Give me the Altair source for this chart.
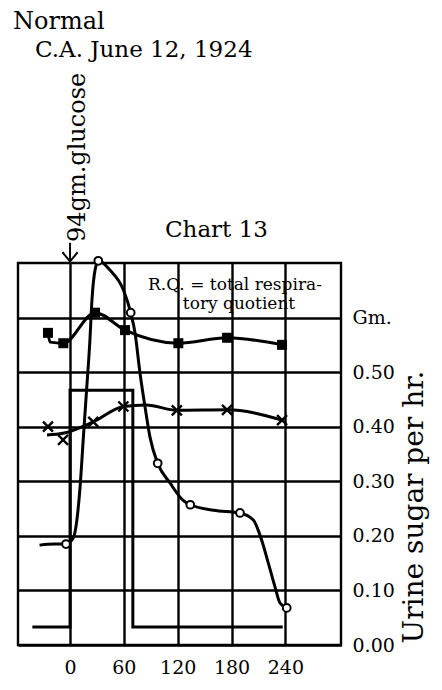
import altair as alt
import pandas as pd

FONT = "DejaVu Serif"

# Blood sugar (open circles) - Gm. scale
bs_mark_x = [-4.5, 31.5, 67.6, 97.7, 134, 189.4, 241.5]
bs_mark_v = [0.185, 0.704, 0.609, 0.333, 0.257, 0.242, 0.068]
# traced path of the blood sugar curve
bs_path_x = [-34, -17, -4.5, 3.6, 7.4, 11.1, 14.8, 18.6, 22.3, 24.1, 27.0, 31.5, 44.5,
             59.4, 67.6, 72.4, 78, 83.6, 89.1, 97.7, 111.4, 126, 134, 160, 189.4,
             204.3, 213.6, 221, 228.5, 234, 241.5]
bs_path_v = [0.183, 0.185, 0.185, 0.196, 0.226, 0.288, 0.379, 0.471, 0.563, 0.623, 0.678,
             0.704, 0.687, 0.651, 0.609, 0.572, 0.498, 0.436, 0.381, 0.333, 0.297, 0.265,
             0.257, 0.247, 0.242, 0.229, 0.192, 0.15, 0.106, 0.077, 0.068]

# Squares series
sq_mark_x = [-24.6, -7.5, 27.8, 61.3, 120.7, 175, 236.3]
sq_mark_v = [0.572, 0.553, 0.609, 0.577, 0.553, 0.563, 0.55]
sq_path_x = [-24.6, -22.2, -7.5, 27.8, 61.3, 120.7, 175, 236.3]
sq_path_v = [0.572, 0.555, 0.553, 0.609, 0.577, 0.553, 0.563, 0.55]

# Crosses series
cr_mark_x = [-24.6, -7.8, 25.9, 59.4, 119, 175, 236.3]
cr_mark_v = [0.40, 0.376, 0.409, 0.437, 0.43, 0.431, 0.412]
cr_path_x = [-25.7, -7.8, 25.9, 59.4, 85, 119, 175, 236.3]
cr_path_v = [0.385, 0.388, 0.409, 0.437, 0.44, 0.43, 0.431, 0.412]

# Urine sugar per hr. (step)
us_x = [-42, 0, 0, 70, 70, 237]
us_v = [0.033, 0.033, 0.467, 0.467, 0.033, 0.033]

x_ticks = [0, 60, 120, 180, 240]
y_ticks = [0, 0.1, 0.2, 0.3, 0.4, 0.5, 0.6]

GW = 2.4
X = alt.X("x:Q",
          scale=alt.Scale(domain=[-58, 302], nice=False, zero=False),
          axis=alt.Axis(values=x_ticks, grid=True, gridColor="black", gridWidth=GW,
                        gridOpacity=1, ticks=False, domain=False, labelFont=FONT,
                        labelFontSize=19, labelColor="black", labelPadding=13,
                        labelFlush=False, title=None))
Y = alt.Y("v:Q",
          scale=alt.Scale(domain=[0, 0.7], nice=False, zero=False),
          axis=alt.Axis(orient="right", values=y_ticks, grid=True, gridColor="black",
                        gridWidth=GW, gridOpacity=1, ticks=False, domain=False,
                        labelFont=FONT, labelFontSize=19, labelColor="black",
                        labelAlign="left", labelPadding=11, labelFlush=False,
                        labelExpr="datum.value > 0.55 ? 'Gm.' : format(datum.value, '.2f')",
                        title=None))

LW = 3

us_df = pd.DataFrame({"x": us_x, "v": us_v, "o": list(range(len(us_x)))})
step = alt.Chart(us_df).mark_line(color="black", strokeWidth=LW, interpolate="linear").encode(
    x=X, y=Y, order="o:Q")

bs_path = alt.Chart(pd.DataFrame({"x": bs_path_x, "v": bs_path_v})).mark_line(
    color="black", strokeWidth=LW, interpolate="monotone", clip=False).encode(x=X, y=Y)
sq_path = alt.Chart(pd.DataFrame({"x": sq_path_x, "v": sq_path_v})).mark_line(
    color="black", strokeWidth=LW, interpolate="monotone").encode(x=X, y=Y)
cr_path = alt.Chart(pd.DataFrame({"x": cr_path_x, "v": cr_path_v})).mark_line(
    color="black", strokeWidth=LW, interpolate="monotone").encode(x=X, y=Y)

bs_pts = alt.Chart(pd.DataFrame({"x": bs_mark_x, "v": bs_mark_v})).mark_point(
    shape="circle", fill="white", stroke="black", strokeWidth=2, size=60,
    opacity=1, fillOpacity=1, clip=False).encode(x=X, y=Y)
sq_pts = alt.Chart(pd.DataFrame({"x": sq_mark_x, "v": sq_mark_v})).mark_point(
    shape="square", filled=True, color="black", size=100, opacity=1).encode(x=X, y=Y)
cr_pts = alt.Chart(pd.DataFrame({"x": cr_mark_x, "v": cr_mark_v})).mark_point(
    shape="M-1,-1L1,1M1,-1L-1,1", filled=False, stroke="black", strokeWidth=2.4,
    size=100, opacity=1).encode(x=X, y=Y)

# glucose arrow
arrow_df = pd.DataFrame({"x": [0], "v": [0.737], "v2": [0.706]})
arrow = alt.Chart(arrow_df).mark_rule(color="black", strokeWidth=2, clip=False).encode(
    x=X, y=Y, y2="v2:Q")
head = alt.Chart(pd.DataFrame({"x": [0], "v": [0.703]})).mark_point(
    shape="M-1,-1.2L0,0L1,-1.2", filled=False, stroke="black", strokeWidth=2,
    size=230, opacity=1, clip=False).encode(x=X, y=Y)
gluc = alt.Chart(pd.DataFrame({"x": [0], "v": [0.7385], "t": ["94gm.glucose"]})).mark_text(
    font=FONT, fontSize=24, angle=270, align="left", baseline="alphabetic", dy=15,
    color="black", clip=False).encode(x=X, y=Y, text="t:N")


def label(txt, px, py, size, align="left", angle=0):
    return alt.Chart(pd.DataFrame({"t": [txt]})).mark_text(
        font=FONT, fontSize=size, align=align, baseline="alphabetic", angle=angle,
        color="black").encode(x=alt.value(px), y=alt.value(py), text="t:N")


t_normal = label("Normal", -5, -234, 24)
t_ca = label("C.A. June 12, 1924", 17, -206, 23)
t_chart = label("Chart 13", 147, -26, 23)
t_rq1 = label("R.Q. = total respira-", 217, 27, 17, align="center")
t_rq2 = label("tory quotient", 221, 46, 17, align="center")
t_urine = label("Urine sugar per hr.", 405, 244, 28, align="center", angle=270)

chart = alt.layer(
    step, bs_path, sq_path, cr_path, bs_pts, sq_pts, cr_pts, arrow, head, gluc,
    t_normal, t_ca, t_chart, t_rq1, t_rq2, t_urine
).properties(
    width=323, height=382,
    autosize=alt.AutoSizeParams(type="none"),
    padding={"left": 10, "top": 255, "right": 93, "bottom": 35},
    background="white",
).configure_view(stroke="black", strokeWidth=GW)

chart.save("out.html", embed_options={"renderer": "svg", "actions": False})
